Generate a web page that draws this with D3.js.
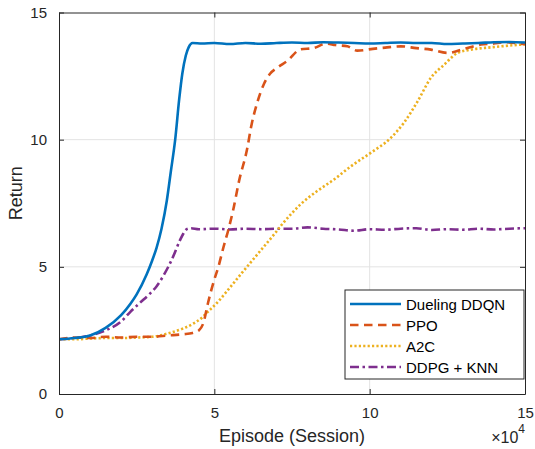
<!DOCTYPE html>
<html>
<head>
<meta charset="utf-8">
<script src="https://cdn.jsdelivr.net/npm/d3@7"></script>
<style>
body { margin: 0; background: #fff; }
svg text { font-family: "Liberation Sans", Arial, Helvetica, sans-serif; fill: #262626; }
.grid line { stroke: #e3e3e3; stroke-width: 1; }
.axis-ticks { font-size: 15px; }
.axis-label { font-size: 18px; }
.legend-text { font-size: 15px; fill: #000; }
</style>
</head>
<body>
<div id="chart"></div>
<script>
// x values in units of 10^4 episodes
var dqn_x = [0, 0.5, 1.0, 1.5, 2.0, 2.3, 2.5, 2.82, 3.0, 3.14, 3.3, 3.47, 3.6, 3.74, 3.87, 3.97, 4.08, 4.18, 4.3, 4.6, 5.0, 5.5, 6.0, 6.5, 7.0, 7.5, 8.0, 8.5, 9.0, 9.5, 10.0, 10.5, 11.0, 11.5, 12.0, 12.5, 13.0, 13.5, 14.0, 14.5, 15.0];
var dqn_y = [2.15, 2.2, 2.3, 2.6, 3.1, 3.55, 3.92, 4.7, 5.25, 5.75, 6.5, 7.6, 8.75, 10.0, 11.6, 12.6, 13.3, 13.65, 13.8, 13.78, 13.8, 13.76, 13.8, 13.77, 13.8, 13.82, 13.8, 13.83, 13.82, 13.8, 13.78, 13.8, 13.82, 13.8, 13.8, 13.76, 13.78, 13.8, 13.83, 13.84, 13.82];

var ppo_x = [0, 0.5, 1.0, 1.5, 2.0, 2.5, 3.0, 3.5, 4.0, 4.3, 4.5, 4.65, 4.8, 5.0, 5.13, 5.3, 5.45, 5.6, 5.8, 6.05, 6.2, 6.38, 6.6, 6.8, 7.05, 7.35, 7.77, 8.2, 8.6, 8.9, 9.28, 9.6, 10.1, 10.5, 11.0, 11.5, 11.97, 12.5, 13.04, 13.58, 14.0, 14.33, 14.7, 15.0];
var ppo_y = [2.15, 2.22, 2.2, 2.25, 2.22, 2.25, 2.25, 2.3, 2.35, 2.4, 2.5, 2.8, 3.6, 4.5, 5.0, 5.8, 6.45, 7.2, 8.4, 9.6, 10.6, 11.45, 12.2, 12.6, 12.85, 13.1, 13.55, 13.6, 13.78, 13.72, 13.67, 13.5, 13.57, 13.62, 13.67, 13.6, 13.54, 13.41, 13.57, 13.74, 13.78, 13.83, 13.8, 13.75];

var a2c_x = [0, 0.5, 1.0, 1.5, 2.0, 2.5, 3.0, 3.5, 4.0, 4.3, 4.6, 4.8, 5.1, 5.35, 5.88, 6.42, 6.96, 7.2, 7.49, 7.77, 8.31, 8.85, 9.39, 10.03, 10.68, 11.1, 11.54, 11.97, 12.4, 12.83, 13.26, 13.9, 14.5, 15.0];
var a2c_y = [2.15, 2.15, 2.18, 2.2, 2.2, 2.22, 2.25, 2.38, 2.58, 2.75, 3.0, 3.24, 3.6, 3.96, 4.75, 5.54, 6.33, 6.7, 7.1, 7.45, 7.98, 8.43, 8.95, 9.48, 10.07, 10.66, 11.5, 12.43, 12.95, 13.41, 13.54, 13.63, 13.7, 13.75];

var ddpg_x = [0, 0.5, 1.0, 1.5, 2.0, 2.29, 2.6, 2.93, 3.15, 3.36, 3.63, 3.9, 4.0, 4.11, 4.25, 4.5, 5.0, 5.5, 6.0, 6.5, 7.0, 7.5, 8.0, 8.5, 9.0, 9.5, 10.0, 10.5, 11.0, 11.5, 12.0, 12.5, 13.0, 13.5, 14.0, 14.5, 15.0];
var ddpg_y = [2.15, 2.2, 2.3, 2.5, 2.85, 3.22, 3.58, 3.95, 4.25, 4.65, 5.28, 6.06, 6.3, 6.48, 6.52, 6.48, 6.5, 6.47, 6.5, 6.48, 6.5, 6.5, 6.55, 6.5, 6.47, 6.42, 6.48, 6.46, 6.5, 6.52, 6.45, 6.48, 6.46, 6.5, 6.47, 6.5, 6.52];

var series_names = ["Dueling DDQN", "PPO", "A2C", "DDPG + KNN"];
var series_colors = ["#0072BD", "#D95319", "#EDB120", "#7E2F8E"];
var series_dash = ["", "8.5,5.5", "2.2,2.2", "9,3.5,2.5,3.5"];
var x_ticks = [0, 5, 10, 15];
var y_ticks = [0, 5, 10, 15];

var width = 535, height = 449;
var margin = {top: 12.5, right: 10, bottom: 55, left: 59};
var plot_w = width - margin.left - margin.right;
var plot_h = height - margin.top - margin.bottom;

var svg = d3.select("#chart").append("svg")
    .attr("width", width)
    .attr("height", height);

var g = svg.append("g")
    .attr("transform", "translate(" + margin.left + "," + margin.top + ")");

var x = d3.scaleLinear().domain([0, 15]).range([0, plot_w]);
var y = d3.scaleLinear().domain([0, 15]).range([plot_h, 0]);

// grid
g.append("g").attr("class", "grid")
    .selectAll("line.vx").data(x_ticks.slice(1, -1)).enter().append("line")
    .attr("x1", function (d) { return x(d); }).attr("x2", function (d) { return x(d); })
    .attr("y1", 0).attr("y2", plot_h);
g.append("g").attr("class", "grid")
    .selectAll("line.hy").data(y_ticks.slice(1, -1)).enter().append("line")
    .attr("y1", function (d) { return y(d); }).attr("y2", function (d) { return y(d); })
    .attr("x1", 0).attr("x2", plot_w);

function make_series(xs, ys) {
    return xs.map(function (v, i) { return [v, ys[i]]; });
}

var all_series = [
    make_series(dqn_x, dqn_y),
    make_series(ppo_x, ppo_y),
    make_series(a2c_x, a2c_y),
    make_series(ddpg_x, ddpg_y)
];

var line = d3.line()
    .x(function (d) { return x(d[0]); })
    .y(function (d) { return y(d[1]); })
    .curve(d3.curveMonotoneX);

g.append("defs").append("clipPath").attr("id", "clip")
    .append("rect").attr("width", plot_w).attr("height", plot_h);

// draw DDPG first then others so blue sits on top like the figure
var draw_order = [3, 2, 1, 0];
draw_order.forEach(function (i) {
    g.append("path")
        .datum(all_series[i])
        .attr("clip-path", "url(#clip)")
        .attr("fill", "none")
        .attr("stroke", series_colors[i])
        .attr("stroke-width", 2.6)
        .attr("stroke-dasharray", series_dash[i])
        .attr("stroke-linejoin", "round")
        .attr("d", line);
});

// axes (box with inward ticks on all sides)
var axis_color = "#262626";
function style_axis(sel) {
    sel.select(".domain").attr("stroke", axis_color).attr("stroke-width", 1);
    sel.selectAll(".tick line").attr("stroke", axis_color);
    sel.selectAll(".tick text").attr("class", "axis-ticks").attr("fill", axis_color);
}

var xAxis = g.append("g").attr("transform", "translate(0," + plot_h + ")")
    .call(d3.axisBottom(x).tickValues(x_ticks).tickSizeInner(-5).tickSizeOuter(0).tickPadding(13));
style_axis(xAxis);
var yAxis = g.append("g")
    .call(d3.axisLeft(y).tickValues(y_ticks).tickSizeInner(-5).tickSizeOuter(0).tickPadding(12));
style_axis(yAxis);
var xTop = g.append("g")
    .call(d3.axisTop(x).tickValues(x_ticks).tickSizeInner(-5).tickSizeOuter(0).tickFormat(""));
style_axis(xTop);
var yRight = g.append("g").attr("transform", "translate(" + plot_w + ",0)")
    .call(d3.axisRight(y).tickValues(y_ticks).tickSizeInner(-5).tickSizeOuter(0).tickFormat(""));
style_axis(yRight);

// axis labels
svg.append("text")
    .attr("class", "axis-label")
    .attr("x", margin.left + plot_w / 2)
    .attr("y", 442)
    .style("text-anchor", "middle")
    .text("Episode (Session)");

svg.append("text")
    .attr("class", "axis-label")
    .attr("transform", "translate(22," + (margin.top + plot_h / 2 - 10) + ") rotate(-90)")
    .style("text-anchor", "middle")
    .text("Return");

var expo = svg.append("text")
    .attr("x", margin.left + plot_w)
    .attr("y", 443)
    .style("font-size", "16px")
    .style("text-anchor", "end");
expo.append("tspan").text("\u00d710");
expo.append("tspan").attr("dy", -10).style("font-size", "12px").text("4");

// legend
var legend = svg.append("g").attr("transform", "translate(345,290)");
legend.append("rect")
    .attr("width", 179).attr("height", 89)
    .attr("fill", "#fff").attr("stroke", axis_color).attr("stroke-width", 1);

var rows = legend.selectAll("g.row").data(series_names).enter().append("g")
    .attr("transform", function (d, i) { return "translate(0," + (14 + i * 21) + ")"; });
rows.append("line")
    .attr("x1", 5).attr("x2", 56).attr("y1", 0).attr("y2", 0)
    .attr("stroke", function (d, i) { return series_colors[i]; })
    .attr("stroke-width", 2.6)
    .attr("stroke-dasharray", function (d, i) { return series_dash[i]; });
rows.append("text")
    .attr("class", "legend-text")
    .attr("x", 61).attr("y", 5.5)
    .text(function (d) { return d; });
</script>
</body>
</html>
